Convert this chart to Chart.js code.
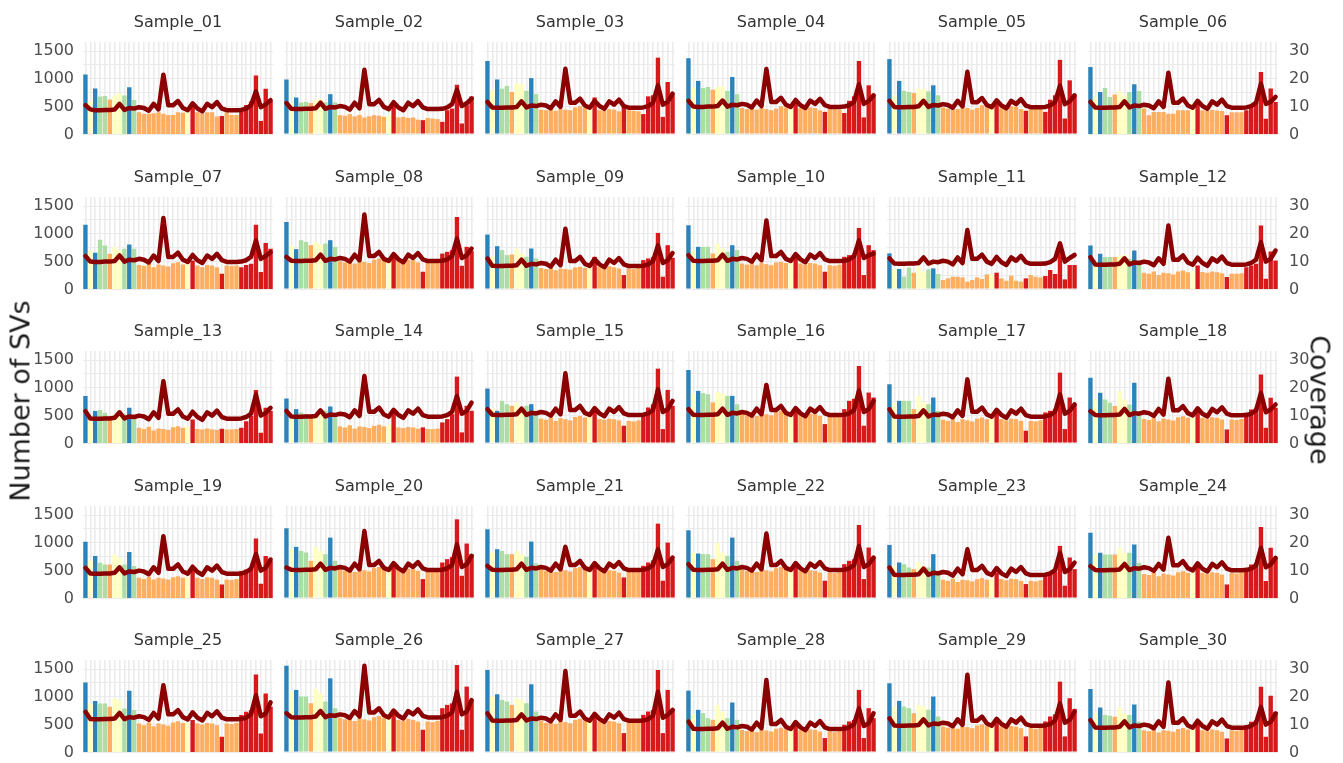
<!DOCTYPE html>
<html>
<head>
<meta charset="utf-8">
<script src="https://cdn.jsdelivr.net/npm/chart.js@4.4.1/dist/chart.umd.min.js"></script>
<style>
  body { margin: 0; background: #fff; width: 1343px; height: 763px; position: relative; overflow: hidden; font-family: "DejaVu Sans", sans-serif; }
  .panel { position: absolute; }
  .axis-title { position: absolute; font-size: 27px; color: #1a1a1a; white-space: nowrap; }
</style>
</head>
<body>
<div id="panels"></div>
<div class="axis-title" id="ytitle">Number of SVs</div>
<div class="axis-title" id="y2title">Coverage</div>
<script>
// 39 categories along the x axis (no labels shown), coloured by group
const categories = Array.from({ length: 39 }, (_, i) => 'C' + String(i + 1).padStart(2, '0'));
const categoryGroups = ['B','Y','B','G','G','O','Y','Y','G','B','G',
  'O','O','O','O','O','O','O','O','O','O',
  'Y','R','O','O','O','O','O','R','O','O','O',
  'R','R','R','R','R','R','R'];
const groupColors = { B: '#2B83BA', G: '#ABDDA4', Y: '#FFFFBF', O: '#FDAE61', R: '#D7191C' };

const leftTicks = [0, 500, 1000, 1500];
const rightTicks = [0, 10, 20, 30];

const sampleNames = ['Sample_01','Sample_02','Sample_03','Sample_04','Sample_05','Sample_06',
  'Sample_07','Sample_08','Sample_09','Sample_10','Sample_11','Sample_12',
  'Sample_13','Sample_14','Sample_15','Sample_16','Sample_17','Sample_18',
  'Sample_19','Sample_20','Sample_21','Sample_22','Sample_23','Sample_24',
  'Sample_25','Sample_26','Sample_27','Sample_28','Sample_29','Sample_30'];

// Number of SVs per category (bars)
const svs01 = [1080,600,825,680,690,630,700,740,700,850,620, 400,370,370,380,400,370,350,350,400,390, 430,500, 400,380,400,400,320, 330, 400,350,350, 420,530,590,1060,240,820,600];
const svs02 = [985,560,660,570,580,560,620,630,570,720,570, 340,330,360,320,345,300,320,340,330,310, 340,550, 300,310,290,300,260, 250, 290,280,270, 220,430,460,890,190,520,680];
const svs03 = [1320,780,985,820,870,760,910,900,780,1010,720, 440,430,470,420,450,440,430,480,500,470, 520,660, 430,420,450,440,410, 490, 430,420,410, 360,680,700,1380,310,940,730];
const svs04 = [1370,840,960,830,850,800,850,860,780,1030,720, 470,450,480,440,470,450,430,460,500,480, 520,620, 470,450,480,470,430, 400, 460,450,440, 380,600,680,1320,300,880,700];
const svs05 = [1354,700,960,780,760,740,820,810,770,880,700, 480,460,500,450,480,470,440,470,520,500, 530,600, 480,470,500,490,450, 420, 470,460,450, 400,620,700,1340,280,970,700];
const svs06 = [1215,673,764,836,673,716,782,704,764,902,782, 464,343,403,403,403,373,373,433,433,433, 493,583, 433,420,440,430,420, 343, 400,400,400, 433,493,565,1125,283,825,583];
const svs07 = [1164,700,660,894,792,642,762,702,732,810,732, 440,420,460,400,450,430,410,470,490,450, 500,520, 430,400,440,430,400, 282, 430,420,430, 400,440,460,1164,312,834,732];
const svs08 = [1212,780,720,882,852,792,852,804,822,882,762, 500,480,520,460,510,490,470,530,550,520, 540,612, 520,500,530,520,480, 312, 490,480,500, 640,672,700,1302,420,762,684];
const svs09 = [984,600,774,702,612,624,732,642,582,732,552, 380,360,390,340,370,360,350,390,400,380, 400,582, 400,380,410,390,370, 252, 372,360,380, 522,552,580,1014,222,792,564];
const svs10 = [1152,700,762,762,762,642,822,732,672,792,702, 460,440,480,430,470,450,430,480,490,470, 480,582, 462,440,470,460,430, 312, 430,420,440, 582,612,640,1104,252,792,702];
const svs11 = [644,361,361,223,385,295,403,313,355,373,271, 162,192,222,222,210,132,162,210,180,264, 264,295, 192,150,240,150,132, 192, 252,222,210, 234,343,271,704,174,433,433];
const svs12 = [792,500,642,582,582,582,612,624,552,702,522, 300,280,320,260,300,290,270,320,340,310, 330,432, 312,300,320,310,290, 222, 282,280,290, 400,430,460,1152,192,684,522];
const svs13 = [852,500,582,600,552,492,522,612,522,642,492, 280,260,300,230,270,260,240,290,310,280, 300,432, 260,250,270,250,240, 264, 252,250,260, 282,400,492,960,192,642,582];
const svs14 = [804,520,612,552,522,500,522,552,582,660,462, 300,280,320,260,300,290,270,310,330,300, 330,552, 282,270,290,280,260, 282, 252,250,260, 372,432,522,1200,192,672,582];
const svs15 = [984,620,582,762,702,672,732,612,672,702,582, 440,420,460,400,450,430,410,470,490,460, 480,624, 432,420,440,430,410, 312, 400,390,410, 492,642,700,1344,252,960,672];
const svs16 = [1320,900,942,900,882,732,924,900,852,852,700, 540,510,560,490,540,520,500,560,580,550, 560,612, 522,500,530,520,490, 342, 492,480,500, 612,762,800,1392,312,912,822];
const svs17 = [1062,720,762,762,762,612,852,732,702,822,582, 420,400,440,380,430,410,390,440,460,430, 450,552, 432,410,440,430,400, 222, 400,390,410, 552,582,620,1272,252,822,702];
const svs18 = [1182,800,912,792,732,672,942,792,702,1092,582, 440,420,460,400,450,430,410,470,490,460, 480,612, 462,440,470,460,430, 252, 432,420,440, 552,612,640,1242,282,822,642];
const svs19 = [1020,680,762,642,612,612,792,732,612,834,582, 370,350,390,340,370,360,340,380,400,370, 390,552, 372,350,380,370,340, 252, 342,330,350, 492,522,560,1080,264,762,672];
const svs20 = [1260,880,924,852,822,672,924,852,792,1092,672, 520,490,540,470,520,500,480,540,560,530, 540,612, 522,500,530,520,490, 342, 492,480,500, 642,702,740,1422,402,984,792];
const svs21 = [1242,820,882,852,792,792,852,792,744,1020,624, 520,490,540,470,520,500,480,540,560,530, 540,582, 492,470,500,490,460, 372, 492,480,500, 582,642,680,1344,312,1002,702];
const svs22 = [1224,820,804,792,792,702,1002,822,762,1092,672, 520,490,540,470,520,500,480,540,560,530, 540,612, 492,470,500,490,460, 312, 462,450,470, 612,672,700,1320,342,912,732];
const svs23 = [960,580,642,612,552,522,642,582,552,792,492, 330,310,350,290,330,320,300,340,360,330, 350,462, 342,320,350,340,310, 252, 312,300,320, 400,432,470,942,222,732,522];
const svs24 = [1182,800,822,792,792,792,912,822,822,972,642, 440,420,460,400,450,430,410,470,490,460, 480,612, 462,440,470,460,430, 252, 462,450,470, 552,612,640,1284,312,912,732];
const svs25 = [1260,880,924,882,882,822,972,942,792,1110,762, 520,490,540,470,520,500,480,540,560,530, 540,582, 522,500,530,520,490, 282, 522,510,530, 672,732,760,1404,342,1062,822];
const svs26 = [1560,1100,1122,1002,1002,882,1140,1062,912,1332,792, 620,590,640,560,610,590,570,630,650,620, 640,732, 582,560,600,580,550, 402, 552,540,560, 792,852,880,1572,402,1182,942];
const svs27 = [1482,1000,1044,942,912,852,972,942,882,1224,732, 560,530,580,510,560,540,520,580,600,570, 590,642, 552,530,560,550,520, 342, 552,540,560, 672,732,760,1482,342,1122,780];
const svs28 = [1110,680,762,702,612,582,852,732,612,894,582, 400,380,420,360,400,390,370,420,440,410, 430,552, 400,380,410,400,370, 252, 372,360,380, 492,552,580,1122,252,792,612];
const svs29 = [1242,820,924,822,792,702,852,822,762,1002,642, 460,440,480,420,460,450,430,480,500,470, 490,582, 462,440,470,460,430, 282, 432,420,440, 552,642,680,1272,282,972,780];
const svs30 = [1140,720,810,672,660,642,810,702,672,864,552, 400,380,420,360,400,390,370,420,440,410, 430,522, 400,380,410,400,370, 252, 400,390,410, 492,552,580,1182,282,1020,732];

// Coverage per category (line, right axis)
const cov01 = [10.5,9.0,8.7,8.7,8.8,8.8,9.0,11.0,8.8,9.5,9.3, 9.8,9.5,8.5,11.0,9.0,21.5,10.5,10.5,12.0,9.5, 8.7,11.2,9.3,8.3,11.0,9.8,11.6,9.3,8.7, 8.7,8.7,8.8,9.3,10.5,15.5,9.8,10.8,12.3];
const cov02 = [11.2,9.1,9.0,9.0,9.1,9.1,9.3,11.3,9.1,9.8,9.6, 10.1,9.8,8.8,11.3,9.3,23.2,10.8,10.8,12.3,9.8, 9.0,11.5,9.6,8.6,11.3,10.1,11.9,9.6,9.0, 9.0,9.0,9.1,9.6,10.8,16.0,10.1,11.1,12.8];
const cov03 = [11.6,9.6,9.5,9.5,9.6,9.6,9.8,11.8,9.6,10.3,10.1, 10.6,10.3,9.3,11.8,9.8,23.6,11.3,11.3,12.8,10.3, 9.5,12.0,10.1,9.1,11.8,10.6,12.4,10.1,9.5, 9.5,9.5,9.6,10.1,11.3,17.6,10.6,11.6,14.6];
const cov04 = [12.0,9.9,9.8,9.8,9.9,9.9,10.1,12.1,9.9,10.6,10.4, 10.9,10.6,9.6,12.1,10.1,23.5,11.6,11.6,13.1,10.6, 9.8,12.3,10.4,9.4,12.1,10.9,12.7,10.4,9.8, 9.8,9.8,9.9,10.4,11.6,18.0,10.9,11.9,14.0];
const cov05 = [12.0,9.8,9.7,9.7,9.8,9.8,10.0,12.0,9.8,10.5,10.3, 10.8,10.5,9.5,12.0,10.0,22.5,11.5,11.5,13.0,10.5, 9.7,12.2,10.3,9.3,12.0,10.8,12.6,10.3,9.7, 9.7,9.7,9.8,10.3,11.5,17.5,10.8,11.8,14.0];
const cov06 = [11.7,9.7,9.6,9.6,9.7,9.7,9.9,11.9,9.7,10.4,10.2, 10.7,10.4,9.4,11.9,9.9,22.2,11.4,11.4,12.9,10.4, 9.6,12.1,10.2,9.2,11.9,10.7,12.5,10.2,9.6, 9.6,9.6,9.7,10.2,11.4,18.3,11.0,11.7,13.5];
const cov07 = [12.0,10.0,9.9,9.9,10.0,10.0,10.2,12.2,10.0,10.7,10.5, 11.0,10.7,9.7,12.2,10.2,25.7,11.7,11.7,13.2,10.7, 9.9,12.4,10.5,9.5,12.2,11.0,12.8,10.5,9.9, 9.9,9.9,10.0,10.5,11.7,17.6,11.0,12.0,13.4];
const cov08 = [11.6,10.2,10.1,10.1,10.2,10.2,10.4,12.4,10.2,10.9,10.7, 11.2,10.9,9.9,12.4,10.4,26.9,11.9,11.9,13.4,10.9, 10.1,12.6,10.7,9.7,12.4,11.2,13.0,10.7,10.1, 10.1,10.1,10.2,10.7,11.9,18.2,11.2,12.2,14.6];
const cov09 = [11.0,8.4,8.3,8.3,8.4,8.4,8.6,10.6,8.4,9.1,8.9, 9.4,9.1,8.1,10.6,8.6,21.8,10.1,10.1,11.6,9.1, 8.3,10.8,8.9,7.9,10.6,9.4,11.2,8.9,8.3, 8.3,8.3,8.4,8.9,10.1,15.8,9.4,10.4,13.0];
const cov10 = [12.2,10.2,10.1,10.1,10.2,10.2,10.4,12.4,10.2,10.9,10.7, 11.2,10.9,9.9,12.4,10.4,24.8,11.9,11.9,13.4,10.9, 10.1,12.6,10.7,9.7,12.4,11.2,13.0,10.7,10.1, 10.1,10.1,10.2,10.7,11.9,17.6,11.2,12.2,12.8];
const cov11 = [11.1,9.2,9.1,9.1,9.2,9.2,9.4,11.4,9.2,9.9,9.7, 10.2,9.9,8.9,11.4,9.4,21.3,10.9,10.9,12.4,9.9, 9.1,11.6,9.7,8.7,11.4,10.2,12.0,9.7,9.1, 9.1,9.1,9.2,9.7,10.9,16.5,9.9,11.2,12.3];
const cov12 = [11.6,9.0,8.9,8.9,9.0,9.0,9.2,11.2,9.0,9.7,9.5, 10.0,9.7,8.7,11.2,9.2,23.0,10.7,10.7,12.2,9.7, 8.9,11.4,9.5,8.5,11.2,10.0,11.8,9.5,8.9, 8.9,8.9,9.0,9.5,10.7,17.0,10.0,11.0,14.0];
const cov13 = [11.6,9.0,8.9,8.9,9.0,9.0,9.2,11.2,9.0,9.7,9.5, 10.0,9.7,8.7,11.2,9.2,22.4,10.7,10.7,12.2,9.7, 8.9,11.4,9.5,8.5,11.2,10.0,11.8,9.5,8.9, 8.9,8.9,9.0,9.5,10.7,17.6,10.0,11.0,12.8];
const cov14 = [11.6,9.6,9.5,9.5,9.6,9.6,9.8,11.8,9.6,10.3,10.1, 10.6,10.3,9.3,11.8,9.8,24.2,11.3,11.3,12.8,10.3, 9.5,12.0,10.1,9.1,11.8,10.6,12.4,10.1,9.5, 9.5,9.5,9.6,10.1,11.3,17.0,10.6,11.6,14.6];
const cov15 = [12.2,10.2,10.1,10.1,10.2,10.2,10.4,12.4,10.2,10.9,10.7, 11.2,10.9,9.9,12.4,10.4,25.2,11.9,11.9,13.4,10.9, 10.1,12.6,10.7,9.7,12.4,11.2,13.0,10.7,10.1, 10.1,10.1,10.2,10.7,11.9,19.4,11.2,12.2,15.2];
const cov16 = [12.2,10.2,10.1,10.1,10.2,10.2,10.4,12.4,10.2,10.9,10.7, 11.2,10.9,9.9,12.4,10.4,21.0,11.9,11.9,13.4,10.9, 10.1,12.6,10.7,9.7,12.4,11.2,13.0,10.7,10.1, 10.1,10.1,10.2,10.7,11.9,19.0,11.2,12.2,15.2];
const cov17 = [12.2,9.6,9.5,9.5,9.6,9.6,9.8,11.8,9.6,10.3,10.1, 10.6,10.3,9.3,11.8,9.8,23.0,11.3,11.3,12.8,10.3, 9.5,12.0,10.1,9.1,11.8,10.6,12.4,10.1,9.5, 9.5,9.5,9.6,10.1,11.3,17.6,10.6,11.6,14.0];
const cov18 = [11.6,10.2,10.1,10.1,10.2,10.2,10.4,12.4,10.2,10.9,10.7, 11.2,10.9,9.9,12.4,10.4,23.3,11.9,11.9,13.4,10.9, 10.1,12.6,10.7,9.7,12.4,11.2,13.0,10.7,10.1, 10.1,10.1,10.2,10.7,11.9,18.2,11.2,12.2,14.0];
const cov19 = [11.0,9.0,8.9,8.9,9.0,9.0,9.2,11.2,9.0,9.7,9.5, 10.0,9.7,8.7,11.2,9.2,22.4,10.7,10.7,12.2,9.7, 8.9,11.4,9.5,8.5,11.2,10.0,11.8,9.5,8.9, 8.9,8.9,9.0,9.5,10.7,16.0,10.0,11.0,14.0];
const cov20 = [11.0,10.2,10.1,10.1,10.2,10.2,10.4,12.4,10.2,10.9,10.7, 11.2,10.9,9.9,12.4,10.4,24.2,11.9,11.9,13.4,10.9, 10.1,12.6,10.7,9.7,12.4,11.2,13.0,10.7,10.1, 10.1,10.1,10.2,10.7,11.9,19.4,11.2,12.2,15.2];
const cov21 = [11.6,10.2,10.1,10.1,10.2,10.2,10.4,12.4,10.2,10.9,10.7, 11.2,10.9,9.9,12.4,10.4,18.5,11.9,11.9,13.4,10.9, 10.1,12.6,10.7,9.7,12.4,11.2,13.0,10.7,10.1, 10.1,10.1,10.2,10.7,11.9,17.6,11.2,12.2,14.6];
const cov22 = [12.2,10.2,10.1,10.1,10.2,10.2,10.4,12.4,10.2,10.9,10.7, 11.2,10.9,9.9,12.4,10.4,23.3,11.9,11.9,13.4,10.9, 10.1,12.6,10.7,9.7,12.4,11.2,13.0,10.7,10.1, 10.1,10.1,10.2,10.7,11.9,18.8,11.2,12.2,14.6];
const cov23 = [11.0,8.4,8.3,8.3,8.4,8.4,8.6,10.6,8.4,9.1,8.9, 9.4,9.1,8.1,10.6,8.6,17.6,10.1,10.1,11.6,9.1, 8.3,10.8,8.9,7.9,10.6,9.4,11.2,8.9,8.3, 8.3,8.3,8.4,8.9,10.1,16.4,9.4,10.4,12.8];
const cov24 = [11.6,10.2,10.1,10.1,10.2,10.2,10.4,12.4,10.2,10.9,10.7, 11.2,10.9,9.9,12.4,10.4,21.8,11.9,11.9,13.4,10.9, 10.1,12.6,10.7,9.7,12.4,11.2,13.0,10.7,10.1, 10.1,10.1,10.2,10.7,11.9,18.2,11.2,12.2,14.6];
const cov25 = [14.6,12.0,11.9,11.9,12.0,12.0,12.2,14.2,12.0,12.7,12.5, 13.0,12.7,11.7,14.2,12.2,24.2,13.7,13.7,15.2,12.7, 11.9,14.4,12.5,11.5,14.2,13.0,14.8,12.5,11.9, 11.9,11.9,12.0,12.5,13.7,20.6,13.0,14.0,18.0];
const cov26 = [14.0,12.6,12.5,12.5,12.6,12.6,12.8,14.8,12.6,13.3,13.1, 13.6,13.3,12.3,14.8,12.8,31.2,14.3,14.3,15.8,13.3, 12.5,15.0,13.1,12.1,14.8,13.6,15.4,13.1,12.5, 12.5,12.5,12.6,13.1,14.3,21.8,13.6,14.6,18.8];
const cov27 = [14.0,11.4,11.3,11.3,11.4,11.4,11.6,13.6,11.4,12.1,11.9, 12.4,12.1,11.1,13.6,11.6,29.3,13.1,13.1,14.6,12.1, 11.3,13.8,11.9,10.9,13.6,12.4,14.2,11.9,11.3, 11.3,11.3,11.4,11.9,13.1,21.8,12.4,13.4,15.2];
const cov28 = [11.0,8.4,8.3,8.3,8.4,8.4,8.6,10.6,8.4,9.1,8.9, 9.4,9.1,8.1,10.6,8.6,26.0,10.1,10.1,11.6,9.1, 8.3,10.8,8.9,7.9,10.6,9.4,11.2,8.9,8.3, 8.3,8.3,8.4,8.9,10.1,15.8,9.4,10.4,14.0];
const cov29 = [12.2,9.6,9.5,9.5,9.6,9.6,9.8,11.8,9.6,10.3,10.1, 10.6,10.3,9.3,11.8,9.8,27.9,11.3,11.3,12.8,10.3, 9.5,12.0,10.1,9.1,11.8,10.6,12.4,10.1,9.5, 9.5,9.5,9.6,10.1,11.3,17.6,10.6,11.6,14.6];
const cov30 = [11.6,9.0,8.9,8.9,9.0,9.0,9.2,11.2,9.0,9.7,9.5, 10.0,9.7,8.7,11.2,9.2,25.2,10.7,10.7,12.2,9.7, 8.9,11.4,9.5,8.5,11.2,10.0,11.8,9.5,8.9, 8.9,8.9,9.0,9.5,10.7,16.4,10.0,11.0,14.0];

const svSeries = [svs01,svs02,svs03,svs04,svs05,svs06,svs07,svs08,svs09,svs10,svs11,svs12,svs13,svs14,svs15,
  svs16,svs17,svs18,svs19,svs20,svs21,svs22,svs23,svs24,svs25,svs26,svs27,svs28,svs29,svs30];
const covSeries = [cov01,cov02,cov03,cov04,cov05,cov06,cov07,cov08,cov09,cov10,cov11,cov12,cov13,cov14,cov15,
  cov16,cov17,cov18,cov19,cov20,cov21,cov22,cov23,cov24,cov25,cov26,cov27,cov28,cov29,cov30];

// layout of the facet grid
const NCOL = 6;
const AXIS_W = 70;          // space reserved either side of each plot
const PLOT_W = 190;
const TITLE_H = 40;
const PLOT_H = 92;
const BOTTOM_PAD = 14;
const Y_MAX = 1663;         // puts 1500 at 83px above the baseline
const COV_PER_SV = 50;      // right axis: 30 <-> 1500

const barColors = categoryGroups.map(g => groupColors[g]);
const panelsEl = document.getElementById('panels');

function makePanelChart(canvas, i, col) {
  return new Chart(canvas.getContext('2d'), {
    data: {
      labels: categories,
      datasets: [
        {
          type: 'line',
          data: covSeries[i],
          yAxisID: 'y2',
          borderColor: '#8B0000',
          borderWidth: 4.5,
          borderJoinStyle: 'round',
          borderCapStyle: 'round',
          pointRadius: 0,
          tension: 0,
          order: 1
        },
        {
          type: 'bar',
          data: svSeries[i],
          yAxisID: 'y',
          backgroundColor: barColors,
          borderWidth: 0,
          barPercentage: 0.9,
          categoryPercentage: 1.0,
          order: 2
        }
      ]
    },
    options: {
      responsive: false,
      maintainAspectRatio: false,
      animation: false,
      devicePixelRatio: 1,
      layout: { padding: { top: 0, bottom: BOTTOM_PAD, left: 0, right: 0 } },
      plugins: {
        legend: { display: false },
        tooltip: { enabled: false },
        title: {
          display: true,
          text: sampleNames[i],
          color: '#333333',
          font: { family: 'DejaVu Sans', size: 16, weight: 'normal' },
          padding: { top: 11, bottom: TITLE_H - 11 - 19.2 }
        }
      },
      scales: {
        x: {
          offset: true,
          grid: { offset: false, color: '#ebebeb', lineWidth: 1.6, drawTicks: false },
          border: { display: false },
          ticks: { display: false },
          afterFit: s => { s.height = 0; }
        },
        y: {
          position: 'left',
          min: 0,
          max: Y_MAX,
          afterFit: s => { s.width = AXIS_W; },
          grid: {
            drawTicks: false,
            color: ctx => (ctx.tick && ctx.tick.value % 250 === 0) ? '#ebebeb' : 'rgba(0,0,0,0)',
            lineWidth: 1
          },
          border: { display: false },
          ticks: {
            display: col === 0,
            includeBounds: false,
            autoSkip: false,
            stepSize: 250,
            padding: 9,
            color: '#4d4d4d',
            font: { family: 'DejaVu Sans', size: 16 },
            callback: v => leftTicks.includes(v) ? String(v) : ''
          }
        },
        y2: {
          position: 'right',
          min: 0,
          max: Y_MAX / COV_PER_SV,
          afterFit: s => { s.width = AXIS_W; },
          grid: { drawOnChartArea: false, drawTicks: false },
          border: { display: false },
          ticks: {
            display: col === NCOL - 1,
            includeBounds: false,
            autoSkip: false,
            stepSize: 10,
            padding: 11,
            color: '#4d4d4d',
            font: { family: 'DejaVu Sans', size: 16 },
            callback: v => rightTicks.includes(v) ? String(v) : ''
          }
        }
      }
    }
  });
}

sampleNames.forEach((name, i) => {
  const col = i % NCOL;
  const row = Math.floor(i / NCOL);
  const plotLeft = 83 + col * 201;
  const plotTop = Math.round(42 + row * 154.5);

  const canvas = document.createElement('canvas');
  canvas.className = 'panel';
  canvas.width = AXIS_W * 2 + PLOT_W;
  canvas.height = TITLE_H + PLOT_H + BOTTOM_PAD;
  canvas.style.left = (plotLeft - AXIS_W) + 'px';
  panelsEl.appendChild(canvas);

  let chart = makePanelChart(canvas, i, col);
  // tick-label padding can eat into the plot; rebuild on a taller canvas so the plot is PLOT_H tall
  const extra = PLOT_H - (chart.chartArea.bottom - chart.chartArea.top);
  if (Math.abs(extra) > 0.3) {
    chart.destroy();
    canvas.width = AXIS_W * 2 + PLOT_W;
    canvas.height = Math.round(TITLE_H + PLOT_H + BOTTOM_PAD + extra);
    chart = makePanelChart(canvas, i, col);
  }
  canvas.style.top = (plotTop - chart.chartArea.top) + 'px';
});

// axis titles
const yt = document.getElementById('ytitle');
yt.style.left = '20px';
yt.style.top = '401px';
yt.style.transform = 'translate(-50%, -50%) rotate(-90deg)';
const y2t = document.getElementById('y2title');
y2t.style.left = '1320px';
y2t.style.top = '400px';
y2t.style.transform = 'translate(-50%, -50%) rotate(90deg)';
</script>
</body>
</html>
